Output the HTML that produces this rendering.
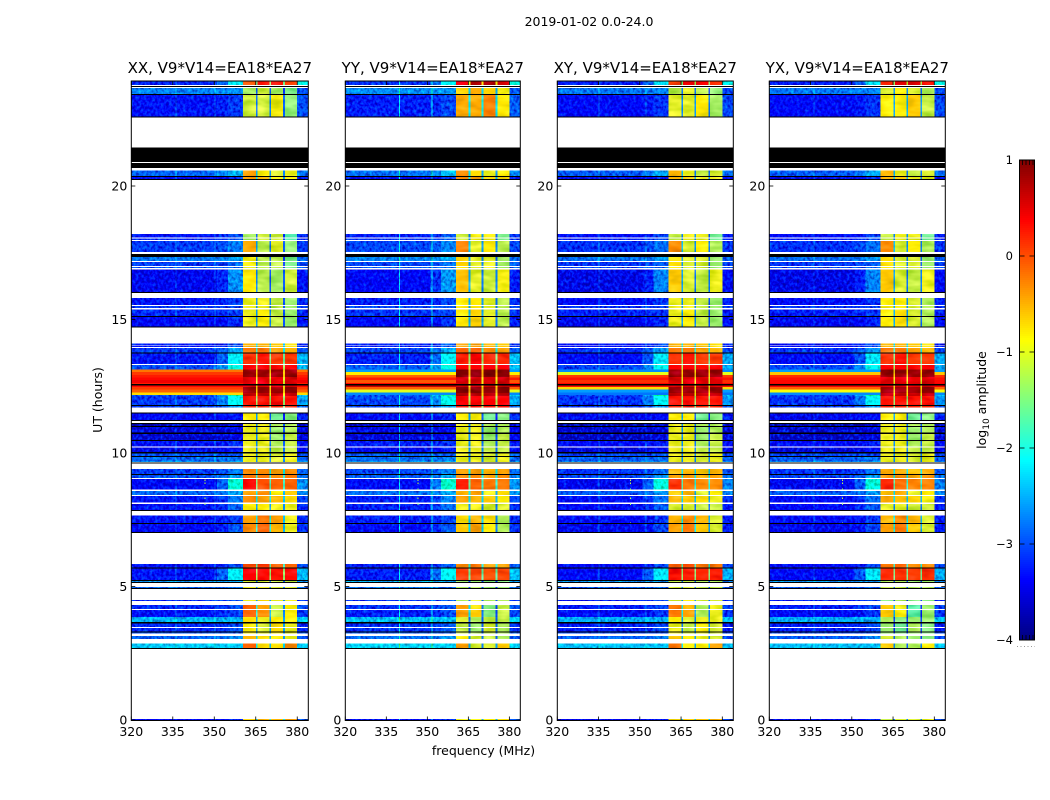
<!DOCTYPE html>
<html lang="en">
<head>
<meta charset="utf-8">
<title>2019-01-02 waterfall amplitude</title>
<style>
html,body{margin:0;padding:0;background:#fff;width:1050px;height:800px;overflow:hidden}
svg{display:block}
text{font-family:"DejaVu Sans","Liberation Sans",sans-serif;fill:#000}
</style>
</head>
<body>
<svg id="figure" xmlns="http://www.w3.org/2000/svg" width="1050" height="800" viewBox="0 0 1050 800">
  <defs>
    <filter id="speckle" x="0" y="0" width="100%" height="100%" color-interpolation-filters="sRGB">
      <feTurbulence type="fractalNoise" baseFrequency="0.36 0.3" numOctaves="2" seed="7" result="n"/>
      <feColorMatrix in="n" type="matrix" values="0 0 0 0 0  1 0 0 0 0  1 0 0 0 0  0 0 0 0 1" result="g"/>
      <feComposite in="SourceGraphic" in2="g" operator="arithmetic" k1="0" k2="1" k3="0.85" k4="-0.42" result="mix"/>
      <feComposite in="mix" in2="SourceAlpha" operator="in"/>
    </filter>
    <filter id="mottle" x="0" y="0" width="100%" height="100%" color-interpolation-filters="sRGB">
      <feTurbulence type="fractalNoise" baseFrequency="0.06 0.16" numOctaves="2" seed="3" result="n"/>
      <feColorMatrix in="n" type="matrix" values="1 0 0 0 0  0.6 0 0 0 0  0.9 0 0 0 0  0 0 0 0 1" result="g"/>
      <feComposite in="SourceGraphic" in2="g" operator="arithmetic" k1="0" k2="1" k3="0.45" k4="-0.2" result="mix"/>
      <feComposite in="mix" in2="SourceAlpha" operator="in"/>
    </filter>
  </defs>
  <text x="589" y="26" font-size="12.5" text-anchor="middle">2019-01-02 0.0-24.0</text>
  <text transform="translate(102,400) rotate(-90)" font-size="12.5" text-anchor="middle">UT (hours)</text>
  <text x="483.5" y="755" font-size="12.5" text-anchor="middle">frequency (MHz)</text>
  <text transform="translate(986,400) rotate(-90)" font-size="12.5" text-anchor="middle">log<tspan font-size="9" dy="3">10</tspan><tspan dy="-3"> amplitude</tspan></text>
  <g id="panels"></g>
  <g id="colorbar"></g>
</svg>
<script>
// ---- chart data ----
const W = null;   // no data recorded (white)
const K = -9;     // flagged row (black)

const panelTitles = ["XX, V9*V14=EA18*EA27", "YY, V9*V14=EA18*EA27", "XY, V9*V14=EA18*EA27", "YX, V9*V14=EA18*EA27"];
const xTicks = [320, 335, 350, 365, 380];
const yTicks = [0, 5, 10, 15, 20];
const colorTicks = [1, 0, -1, -2, -3, -4];
const colorTickLabels = ["1", "0", "\u22121", "\u22122", "\u22123", "\u22124"];

// frequency column edges (MHz): low, blend, ramp, sub-band 1, gap, sub-band 2, gap, sub-band 3, gap, sub-band 4, high
const freqEdges = [320, 351, 355, 360.4, 365.1, 365.7, 369.9, 370.5, 374.9, 375.6, 380, 384];

// UT row edges, top to bottom; one row of rowAmplitude between each pair
const utEdges = [23.93,
  23.78, 23.74, 23.71, 23.67, 23.44, 23.41, 22.60, 22.56, 21.44, 20.90,
  20.86, 20.67, 20.58, 20.37, 20.34, 20.26, 20.22, 18.20, 18.07, 18.03,
  17.98, 17.94, 17.52, 17.45, 17.35, 17.20, 17.16, 17.00, 16.97, 16.92,
  16.88, 16.03, 15.99, 15.80, 15.55, 15.50, 15.43, 15.38, 15.13, 15.09,
  14.73, 14.70, 14.11, 14.05, 14.02, 13.97, 13.93, 13.76, 13.73, 13.33,
  13.29, 13.13, 12.85, 12.58, 12.53, 12.47, 12.25, 12.13, 11.80, 11.76,
  11.70, 11.51, 11.48, 11.24, 11.20, 11.13, 11.10, 11.02, 10.99, 10.77,
  10.71, 10.49, 10.45, 10.24, 10.20, 10.03, 9.99, 9.89, 9.85, 9.70,
  9.67, 9.64, 9.61, 9.40, 9.21, 9.19, 9.06, 9.03, 8.64, 8.58,
  8.43, 8.39, 8.14, 8.09, 7.86, 7.83, 7.65, 7.37, 7.34, 7.04,
  7.00, 5.84, 5.72, 5.69, 5.24, 5.22, 5.16, 5.13, 4.99, 4.95,
  4.92, 4.49, 4.46, 4.31, 4.15, 4.12, 3.85, 3.67, 3.62, 3.48,
  3.45, 3.32, 3.28, 3.24, 3.15, 3.04, 2.87, 2.70, 2.67, 0.04,
  0];

// log10 amplitude per UT row: [low, ramp, band1, band2, band3, band4, high]
const rowAmplitude = [
  [-3.2,-2.2,0.0,0.35,0.35,0.1,-2.0], W, K, W, [-2.75,-2.7,-1.2,-1.0,-1.2,-1.4,-3.0], K, [-3.3,-3.1,-1.0,-1.0,-0.8,-1.3,-3.0], K, W, K,
  W, K, W, [-2.9,-2.5,-0.5,-0.9,-1.1,-1.0,-2.8], K, [-3.4,-3.2,-0.5,-0.6,-0.9,-0.9,-3.3], K, W, [-3.3,-3.0,-1.2,-1.0,-1.0,-1.6,-3.2], W,
  [-3.2,-3.0,-1.2,-1.0,-1.0,-1.6,-3.2], W, [-3.1,-2.8,-0.4,-1.1,-0.9,-1.3,-3.1], W, K, [-2.8,-2.6,-0.8,-1.1,-1.1,-1.4,-2.9], W, [-3.1,-2.9,-0.8,-1.1,-1.1,-1.4,-3.0], W, [-3.0,-2.9,-0.9,-1.1,-1.1,-1.4,-3.0],
  W, [-3.45,-2.7,-0.7,-1.1,-1.2,-1.0,-3.3], K, W, [-3.3,-3.1,-0.9,-0.9,-1.1,-1.3,-3.2], W, [-3.1,-3.0,-0.9,-0.9,-1.1,-1.3,-3.1], W, [-3.2,-3.1,-0.9,-0.8,-1.1,-1.3,-3.2], K,
  [-3.4,-3.2,-0.9,-0.8,-1.1,-1.3,-3.3], K, W, [-3.3,-3.0,-0.6,-0.6,-0.7,-0.8,-3.2], W, [-3.3,-3.0,-0.6,-0.6,-0.7,-0.8,-3.2], W, [-3.1,-2.6,-0.3,-0.3,-0.5,-0.6,-3.0], K, [-3.3,-2.2,0.05,0.2,0.0,0.0,-2.5],
  W, [-3.0,-2.0,0.3,0.3,0.25,0.3,-2.5], [-3.0,-1.9,0.9,0.9,0.9,0.9,-2.4], [-3.0,-1.9,0.55,0.55,0.5,0.55,-2.4], K, [-3.0,-1.9,0.55,0.55,0.5,0.55,-2.4], [-3.0,-1.9,0.9,0.9,0.85,0.9,-2.4], [-3.0,-1.6,0.7,0.7,0.65,0.7,-2.4], [-3.1,-2.1,0.2,0.2,0.2,0.2,-2.6], K,
  [-3.1,-2.6,0.1,0.1,0.1,0.1,-2.9], W, K, [-3.4,-3.3,-0.9,-0.9,-1.6,-1.5,-3.2], K, W, K, [-3.7,-3.6,-1.0,-1.0,-1.3,-1.3,-3.6], K, [-3.55,-3.5,-1.0,-1.0,-1.4,-1.3,-3.5],
  K, [-3.6,-3.5,-1.0,-1.0,-1.4,-1.2,-3.5], K, [-3.3,-3.2,-1.0,-1.0,-1.3,-1.2,-3.3], W, [-3.5,-3.3,-1.0,-1.0,-1.2,-1.2,-3.4], K, [-3.0,-3.0,-1.0,-1.0,-1.1,-1.0,-3.0], K, [-2.9,-2.8,-1.0,-1.0,-1.1,-1.0,-2.9],
  [-2.7,-2.6,-1.0,-1.0,-1.1,-1.0,-2.7], W, K, W, [-3.1,-2.8,-0.4,-0.4,-0.5,-0.4,-2.9], K, [-3.0,-2.6,-0.3,-0.3,-0.4,-0.3,-2.8], W, [-3.4,-1.9,0.25,-0.1,-0.2,-0.2,-2.7], W,
  [-2.9,-2.6,-0.5,-0.4,-0.9,-0.7,-2.7], W, [-3.3,-2.8,-0.4,-0.5,-0.6,-0.8,-3.1], W, [-3.3,-2.9,-0.9,-0.9,-1.0,-1.0,-3.2], K, W, [-3.3,-3.1,-0.5,-0.3,-0.5,-1.0,-3.2], K, [-3.4,-3.0,-0.4,-0.2,-0.6,-1.0,-3.2],
  K, W, [-3.3,-3.0,-0.1,0.0,-0.2,-0.2,-3.0], K, [-3.3,-2.2,0.3,0.25,0.2,0.25,-2.5], K, [-2.6,-2.6,-1.1,-1.1,-1.2,-1.2,-2.7], K, W, [-2.9,-2.9,-1.0,-1.0,-1.1,-1.1,-2.9],
  K, W, [-3.2,-3.0,-1.0,-0.8,-1.0,-1.0,-3.2], W, [-3.2,-3.0,-0.2,-0.5,-1.2,-0.9,-3.0], W, [-3.3,-3.1,-0.2,-0.4,-1.2,-0.9,-3.1], [-2.5,-2.5,-0.8,-1.0,-0.9,-0.9,-2.4], K, [-3.2,-3.0,-0.9,-1.1,-0.8,-1.0,-3.2],
  W, [-3.2,-3.0,-0.9,-1.1,-0.8,-1.0,-3.2], K, [-3.0,-3.0,-0.9,-1.0,-0.9,-1.0,-3.0], W, [-2.9,-2.7,-0.6,-0.8,-0.9,-1.0,-3.0], W, [-2.4,-2.4,-0.2,-0.8,-0.8,-0.4,-2.4], K, W,
  [-3.4,-3.2,-0.7,-0.6,-0.6,-0.5,-3.0],
];

// band-level offset for each polarisation, by UT block (block upper edges ascending)
const bandBlockTops = [4.6, 6.5, 7.9, 9.6, 11.55, 14.3, 16.05, 18.3, 21, 24];
const bandOffsetXX = [0, 0, 0, 0, 0, 0, -0.1, -0.15, 0, -0.15];
const bandOffsetYY = [-0.3, -0.3, -0.3, -0.1, 0, 0.1, 0.05, 0.05, 0.1, 0.45];
const bandOffsetXY = [-0.1, -0.1, -0.1, -0.2, 0, 0, -0.1, 0, -0.1, -0.05];
const bandOffsetYX = [-0.5, -0.2, -0.1, -0.15, 0, 0, 0, 0, -0.1, 0.1];
const bandOffsets = [bandOffsetXX, bandOffsetYY, bandOffsetXY, bandOffsetYX];
const lowOffsets = [0, 0.05, -0.05, -0.05];

// strong broadband event around 12.7 UT, outside the sub-bands
const burstEdges = [13.13, 13.03, 12.93, 12.83, 12.73, 12.63, 12.58, 12.52, 12.47, 12.37, 12.26, 12.17];
const burstXX = [-0.2, 0.1, 0.25, 0.35, 0.45, 0.25, 0.7, 0.35, 0.1, -0.1, -0.7];
const burstYY = [-2.6, -0.8, -0.1, 0.25, -0.05, 0.35, 0.05, 0.65, -0.1, -1.0, -2.7];
const burstXY = [-2.7, -1.0, 0.1, 0.3, 0.15, 0.35, 0.3, 0.3, -0.7, -2.6, -2.8];
const burstYX = [-2.6, -0.6, 0.15, 0.3, 0.35, 0.4, 0.4, 0.4, -0.1, -0.9, -2.7];
const burstSeries = [burstXX, burstYY, burstXY, burstYX];

// narrow interference channels per panel (MHz) and their brightness above the background
const rfiChannels = [[335.9, 350], [339.7, 351.6], [335, 352], [336]];
const rfiBoosts = [0.4, 1.1, 0.4, 0.3];

// isolated bright samples
const spikeFreq = [346.4, 346.4, 346.4, 346.4, 346.4, 346.4];
const spikeUT = [9.0, 8.9, 8.67, 8.33, 8.11, 7.4];
const spikeAmp = [-1.2, -1.2, -1.4, -1.2, -1.4, -1.4];

// ---- axis layout ----
const panelLeft = [131.3, 345.3, 557.3, 769.3];
const panelRight = [308.3, 520.3, 733.3, 945.3];
const plotTop = 81, plotBottom = 720.5;
const freqMin = 320, freqMax = 384, pxPerHour = 26.7;
const colorMin = -4, colorMax = 1;
const barLeft = 1019.5, barRight = 1034.5, barTop = 160, barBottom = 640;

function xAxis(p, f) { return panelLeft[p] + (f - freqMin) * (panelRight[p] - panelLeft[p]) / (freqMax - freqMin); }
function yAxis(h) { return 720 - h * pxPerHour; }
function colorY(v) { return barTop + (colorMax - v) * (barBottom - barTop) / (colorMax - colorMin); }
function clamp01(a) { return Math.max(0, Math.min(1, a)); }
function jet(v) {
  const t = clamp01((v - colorMin) / (colorMax - colorMin));
  const r = clamp01(1.5 - Math.abs(4 * t - 3));
  const g = clamp01(1.5 - Math.abs(4 * t - 2));
  const b = clamp01(1.5 - Math.abs(4 * t - 1));
  return "rgb(" + Math.round(r * 255) + "," + Math.round(g * 255) + "," + Math.round(b * 255) + ")";
}
const NS = "http://www.w3.org/2000/svg";
function make(tag, parent, attrs) {
  const el = document.createElementNS(NS, tag);
  for (const k in attrs) el.setAttribute(k, attrs[k]);
  parent.appendChild(el);
  return el;
}
function blockIndex(h) {
  for (let i = 0; i < bandBlockTops.length; i++) if (h <= bandBlockTops[i]) return i;
  return bandBlockTops.length - 1;
}
function columnValues(row, p, h) {
  const o = bandOffsets[p][blockIndex(h)], lo = lowOffsets[p];
  const [low, ramp, b1, b2, b3, b4, high] = row;
  return [low + lo, low * 2 / 3 + ramp / 3 + lo, ramp + lo,
    b1 + o, (b1 + b2) / 2 - 1.6 + o, b2 + o, (b2 + b3) / 2 - 1.6 + o, b3 + o, (b3 + b4) / 2 - 1.6 + o, b4 + o,
    high + lo];
}

// ---- panels ----
const panelsRoot = document.getElementById("panels");
panelTitles.forEach(function (title, p) {
  const g = make("g", panelsRoot, {});
  
  

  const noisy = make("g", g, { filter: "url(#speckle)", "shape-rendering": "crispEdges" });
  
  
  const smooth = make("g", g, { filter: "url(#mottle)", "shape-rendering": "crispEdges" });
  
  
  const burst = make("g", g, { "shape-rendering": "crispEdges" });
  
  
  const masked = make("g", g, { "shape-rendering": "crispEdges" });
  
  

  rowAmplitude.forEach(function (row, r) {
    const yT = yAxis(utEdges[r]), yB = yAxis(utEdges[r + 1]);
    if (row === W) return;
    if (row === K) {
      const bar = make("rect", masked, { x: panelLeft[p], y: yT, width: panelRight[p] - panelLeft[p], height: Math.max(yB - yT, 1), fill: "#000" });
      
      
      return;
    }
    const vals = columnValues(row, p, (utEdges[r] + utEdges[r + 1]) / 2);
    vals.forEach(function (v, c) {
      const x0 = xAxis(p, freqEdges[c]), x1 = xAxis(p, freqEdges[c + 1]);
      const parent = (c < 3 || c === 10) ? noisy : smooth;
      const cell = make("rect", parent, { x: x0, y: yT, width: x1 - x0, height: yB - yT, fill: jet(v) });
      
      
    });
    rfiChannels[p].forEach(function (f) {
      const cx = xAxis(p, f);
      const rfi = make("rect", noisy, { x: cx, y: yT, width: 1, height: yB - yT, fill: jet(row[0] + rfiBoosts[p]) });
      
      
    });
  });

  burstSeries[p].forEach(function (v, r) {
    const yT = yAxis(burstEdges[r]), yB = yAxis(burstEdges[r + 1]);
    [[0, 3], [10, 11]].forEach(function (span) {
      const x0 = xAxis(p, freqEdges[span[0]]), x1 = xAxis(p, freqEdges[span[1]]);
      const cell = make("rect", burst, { x: x0, y: yT, width: x1 - x0, height: yB - yT, fill: jet(v) });
      
      
    });
  });

  spikeFreq.forEach(function (f, i) {
    const dot = make("rect", burst, { x: xAxis(p, f), y: yAxis(spikeUT[i]), width: 1.2, height: 1.5, fill: jet(spikeAmp[i]) });
    
    
  });

  const frame = make("rect", g, { x: panelLeft[p], y: plotTop, width: panelRight[p] - panelLeft[p], height: plotBottom - plotTop, fill: "none", stroke: "#000", "stroke-width": 1 });
  
  

  xTicks.forEach(function (t) {
    const x = xAxis(p, t);
    const b = make("line", g, { x1: x, x2: x, y1: plotBottom, y2: plotBottom - 4, stroke: "#000", "stroke-width": 0.8 });
    
    
    const u = make("line", g, { x1: x, x2: x, y1: plotTop, y2: plotTop + 4, stroke: "#000", "stroke-width": 0.8 });
    
    
    const lab = make("text", g, { x: x, y: 736, "font-size": 12.5, "text-anchor": "middle" });
    lab.textContent = String(t);
    
    
  });
  yTicks.forEach(function (t) {
    const y = yAxis(t);
    const l = make("line", g, { x1: panelLeft[p], x2: panelLeft[p] + 4, y1: y, y2: y, stroke: "#000", "stroke-width": 0.8 });
    
    
    const rt = make("line", g, { x1: panelRight[p], x2: panelRight[p] - 4, y1: y, y2: y, stroke: "#000", "stroke-width": 0.8 });
    
    
    const lab = make("text", g, { x: panelLeft[p] - 4, y: y + 4.5, "font-size": 12.5, "text-anchor": "end" });
    lab.textContent = String(t);
    
    
  });
  const head = make("text", g, { x: (panelLeft[p] + panelRight[p]) / 2, y: 73, "font-size": 15, "text-anchor": "middle" });
  head.textContent = title;
  
  
});

// ---- colour bar ----
const cbRoot = document.getElementById("colorbar");
const bandGroup = make("g", cbRoot, { "shape-rendering": "crispEdges" });


for (let py = barTop; py < barBottom; py += 2) {
  const v = colorMax - (py + 1 - barTop) * (colorMax - colorMin) / (barBottom - barTop);
  const s = make("rect", bandGroup, { x: barLeft, y: py, width: barRight - barLeft, height: 2, fill: jet(v) });
  
  
}
const cbFrame = make("rect", cbRoot, { x: barLeft, y: barTop, width: barRight - barLeft, height: barBottom - barTop, fill: "none", stroke: "#000", "stroke-width": 1 });


colorTicks.forEach(function (t, i) {
  const y = colorY(t);
  const a = make("line", cbRoot, { x1: barLeft, x2: barLeft + 5, y1: y, y2: y, stroke: "#000", "stroke-width": 0.8 });
  
  
  const b = make("line", cbRoot, { x1: barRight, x2: barRight - 5, y1: y, y2: y, stroke: "#000", "stroke-width": 0.8 });
  
  
  const lab = make("text", cbRoot, { x: 1013, y: y + 4, "font-size": 11.5, "text-anchor": "end" });
  lab.textContent = colorTickLabels[i];
  
  
});
[1022.5, 1026, 1029.5, 1033].forEach(function (x) {
  const up = make("line", cbRoot, { x1: x, x2: x, y1: barTop, y2: barTop + 5, stroke: "#000", "stroke-width": 0.8 });
  
  
  const dn = make("line", cbRoot, { x1: x, x2: x, y1: barBottom, y2: barBottom - 5, stroke: "#000", "stroke-width": 0.8 });
  
  
});
const dots = make("line", cbRoot, { x1: 1017, x2: 1035, y1: 646.5, y2: 646.5, stroke: "#999", "stroke-width": 1, "stroke-dasharray": "1 2.5" });


</script>
</body>
</html>
